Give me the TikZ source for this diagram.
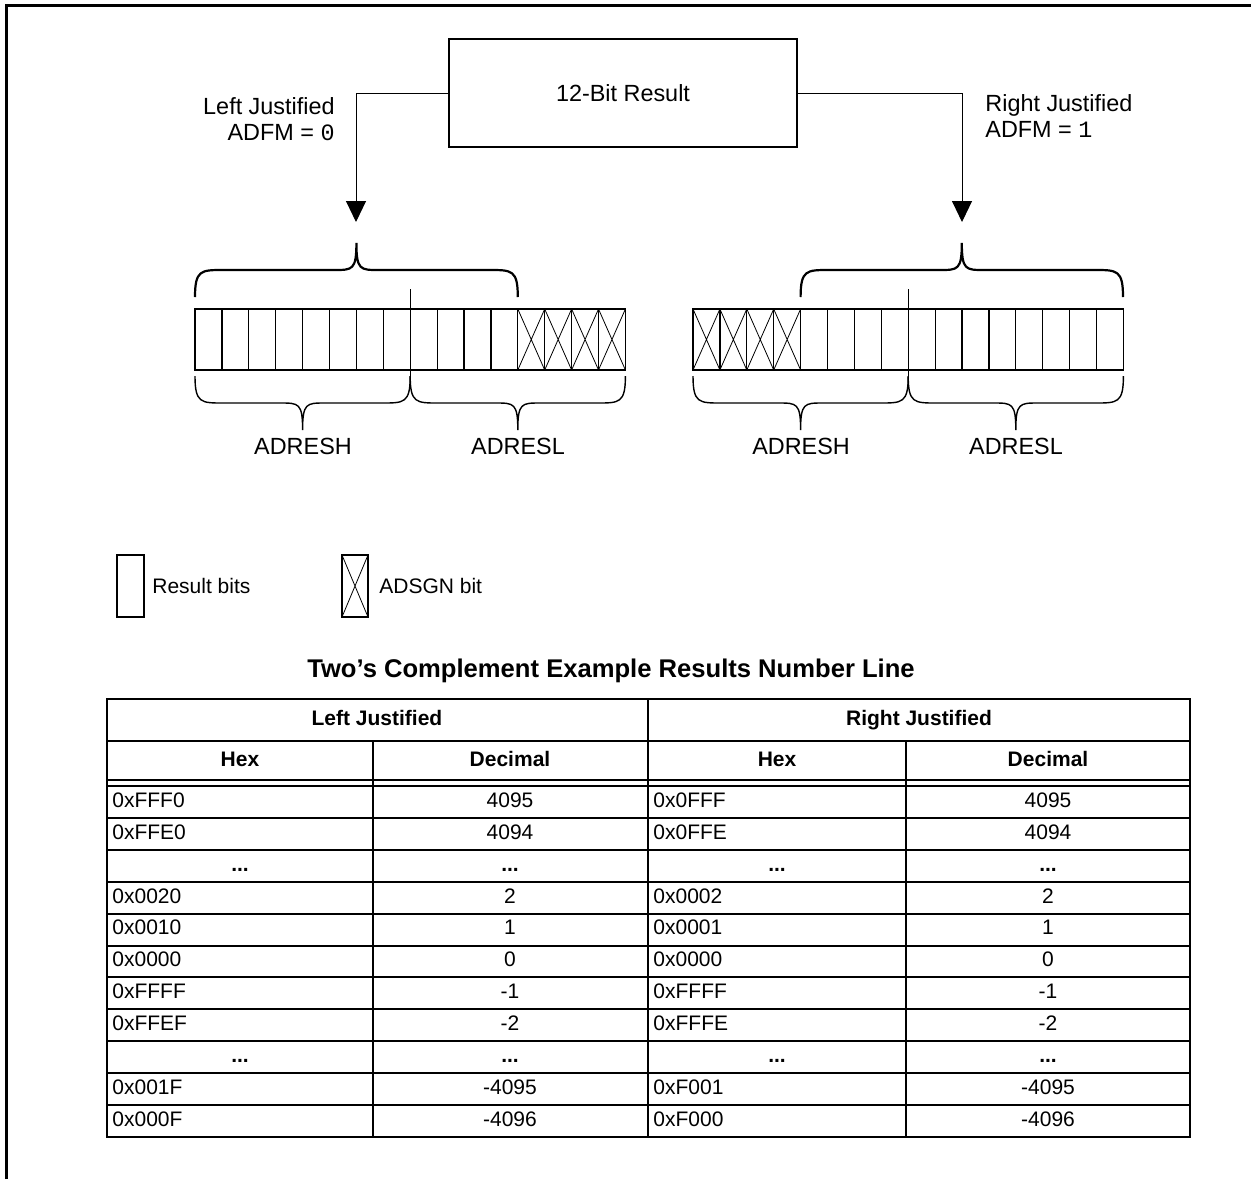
\documentclass[tikz,border=0pt]{standalone}
\usepackage{fontspec}
\setmainfont{Liberation Sans}
\setmonofont{Liberation Mono}
\usetikzlibrary{arrows.meta}
\newcommand{\regbrace}[5]{%
	\draw[line width=#5] ({#1},{#3}) .. controls ({#1},{#3+(#4)}) and ({#1+6},{#3+(#4)}) .. ({#1+28},{#3+(#4)})
		-- ({(#1+#2)/2-22},{#3+(#4)}) .. controls ({(#1+#2)/2-4},{#3+(#4)}) and ({(#1+#2)/2},{#3+(#4)}) .. ({(#1+#2)/2},{#3+2*(#4)})
		.. controls ({(#1+#2)/2},{#3+(#4)}) and ({(#1+#2)/2+4},{#3+(#4)}) .. ({(#1+#2)/2+22},{#3+(#4)})
		-- ({#2-28},{#3+(#4)}) .. controls ({#2-6},{#3+(#4)}) and ({#2},{#3+(#4)}) .. ({#2},{#3});
}
\newcommand{\register}[2]{%
	\foreach \i in {0,...,15} {
		\draw[line width=0.6pt] ({#1+\i*26.9},309) rectangle ++(26.9,61);
	}
	\foreach \i in {#2} {
		\draw[line width=0.4pt] ({#1+\i*26.9},309) -- ++(26.9,61) ({#1+\i*26.9},370) -- ++(26.9,-61);
	}
}
\tikzset{
	lbl/.style={font=\fontsize{11.7}{13}\selectfont, inner sep=0pt},
	cell/.style={font=\fontsize{10.5}{12}\selectfont, inner sep=0pt, text height=7.6pt, text depth=2.2pt},
	head/.style={cell, font=\fontsize{10.5}{12}\selectfont\bfseries},
	conn/.style={line width=0.5pt, -{Triangle[length=10.5pt,width=10pt]}}
}

\begin{document}
\begin{tikzpicture}[x=0.5pt, y=-0.5pt]
	\useasboundingbox (0,0) rectangle (1251,1179);
	\draw[line width=1.5pt] (6,1179) -- (6,5) -- (1251,5);

	\node[draw, line width=0.65pt, minimum width=174pt, minimum height=54pt, lbl] (result) at (623,93) {12-Bit Result};
	\coordinate (ltip) at (356,222);
	\coordinate (rtip) at (962,222);
	\draw[conn] (result.west) -| (ltip);
	\draw[conn] (result.east) -| (rtip);
	\node[lbl, align=right, anchor=east] (ljust) at (335,119) {Left Justified\\ADFM = \texttt{0}};
	\node[lbl, align=left, anchor=west] (rjust) at (985,116) {Right Justified\\ADFM = \texttt{1}};

	\register{195}{12,13,14,15}
	\register{693}{0,1,2,3}
	\regbrace{195}{517.8}{297}{-27}{1.1pt}
	\regbrace{800.6}{1123}{297}{-27}{1.1pt}
	\draw[line width=0.4pt] (410.2,289) -- (410.2,387);
	\draw[line width=0.4pt] (908.2,289) -- (908.2,387);
	\regbrace{195}{410.2}{376}{27}{0.7pt}
	\regbrace{410.2}{625.4}{376}{27}{0.7pt}
	\regbrace{693}{908.2}{376}{27}{0.7pt}
	\regbrace{908.2}{1123.4}{376}{27}{0.7pt}
	\node[lbl] (lh) at (303,446) {ADRESH};
	\node[lbl] (ll) at (518,446) {ADRESL};
	\node[lbl] (rh) at (801,446) {ADRESH};
	\node[lbl] (rl) at (1016,446) {ADRESL};

	\draw[line width=0.6pt] (117,555) rectangle (144,617);
	\node[cell, anchor=west] (leg1) at (152,588) {Result bits};
	\draw[line width=0.6pt] (342,555) rectangle (368,617);
	\draw[line width=0.4pt] (342,555) -- (368,617) (342,617) -- (368,555);
	\node[cell, anchor=west] (leg2) at (379,588) {ADSGN bit};

	\node[font=\fontsize{12.8}{14}\selectfont\bfseries] (title) at (611,671) {Two’s Complement Example Results Number Line};
	\begin{scope}[line width=1pt]
		\draw (107,699) rectangle (1190,1137);
		\draw (107,741) -- (1190,741);
		\draw (107,780) -- (1190,780);
		\draw (107,786) -- (1190,786);
		\foreach \r in {1,...,10} {
			\draw (107,{786+\r*31.9}) -- (1190,{786+\r*31.9});
		}
		\draw (648,699) -- (648,1137);
		\draw (373,741) -- (373,1137);
		\draw (906,741) -- (906,1137);
	\end{scope}
	\node[head] (lhead) at (377,720) {Left Justified};
	\node[head] (rhead) at (919,720) {Right Justified};
	\node[head] (lhex) at (240,761) {Hex};
	\node[head] (ldec) at (510,761) {Decimal};
	\node[head] (rhex) at (777,761) {Hex};
	\node[head] (rdec) at (1048,761) {Decimal};
	\foreach \r/\a/\b/\c/\d in {1/0xFFF0/4095/0x0FFF/4095, 2/0xFFE0/4094/0x0FFE/4094,
			4/0x0020/2/0x0002/2, 5/0x0010/1/0x0001/1, 6/0x0000/0/0x0000/0,
			7/0xFFFF/-1/0xFFFF/-1, 8/0xFFEF/-2/0xFFFE/-2,
			10/0x001F/-4095/0xF001/-4095, 11/0x000F/-4096/0xF000/-4096} {
		\node[cell, anchor=west] (a\r) at (112,{786+(\r-0.5)*31.9}) {\a};
		\node[cell] (b\r) at (510,{786+(\r-0.5)*31.9}) {\b};
		\node[cell, anchor=west] (c\r) at (653,{786+(\r-0.5)*31.9}) {\c};
		\node[cell] (d\r) at (1048,{786+(\r-0.5)*31.9}) {\d};
	}
	\foreach \r in {3,9} {
		\foreach \x [count=\k] in {240,510,777,1048} {
			\node[head] (dots\r\k) at (\x,{786+(\r-0.5)*31.9}) {...};
		}
	}
\end{tikzpicture}
\end{document}
